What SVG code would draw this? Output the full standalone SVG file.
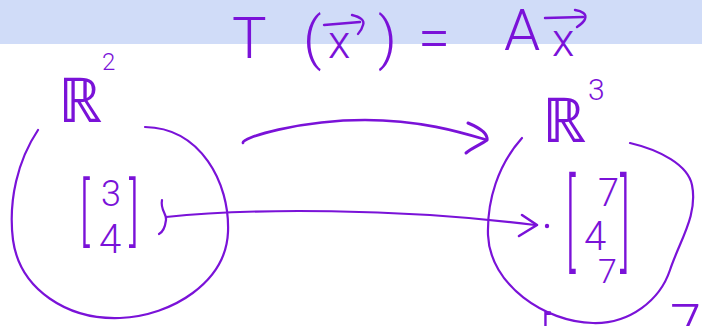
<svg xmlns="http://www.w3.org/2000/svg" width="702" height="326" viewBox="0 0 702 326">
<style>
.ink{fill:#7a12d8;font-family:"Roboto","Liberation Sans",sans-serif;font-weight:300}
.ln{fill:none;stroke:#7a12d8;stroke-linecap:round;stroke-linejoin:round}
</style>
<rect x="0" y="0" width="702" height="44" fill="#d0dcf8"/>
<g id="title">
<text class="ink" font-size="58" y="58"><tspan x="232">T</tspan><tspan x="303">(</tspan><tspan x="328" font-size="46">x</tspan><tspan x="378">)</tspan><tspan x="418">=</tspan><tspan x="504" y="50">A</tspan><tspan x="552" y="56" font-size="46">x</tspan></text>
<path class="ln" stroke-width="2.4" d="M324,25 L360,22 M352,15 C360,17 365,20 363,25 C362,29 360,32 358,34"/>
<path class="ln" stroke-width="2.4" d="M545,18 L583,17 M575,10 C582,11 587,14 585,19 C584,22 580,25 577,27"/>
</g>
<g id="R2">
<path class="ln" stroke-width="2.2" d="M38,130 C18,160 8,200 13,240 C20,290 68,320 120,318 C172,316 226,282 228,232 C230,182 200,128 145,127"/>
<text class="ink" font-size="62" x="58" y="122">ℝ</text>
<text class="ink" font-size="24" x="102" y="70">2</text>
<g id="v1">
<text class="ink" font-size="74" transform="translate(80,237) scale(0.55,1)">[</text>
<text class="ink" font-size="36" x="101" y="206">3</text>
<text class="ink" font-size="40" x="99" y="253">4</text>
<text class="ink" font-size="74" transform="translate(129,237) scale(0.55,1)">]</text>
</g>
</g>
<g id="R3">
<path class="ln" stroke-width="2.2" d="M522,138 C498,165 487,200 488,235 C490,285 545,322 593,323 C630,324 660,300 670,270 C680,240 698,215 692,185 C688,165 660,150 630,143"/>
<text class="ink" font-size="62" x="542" y="142">ℝ</text>
<text class="ink" font-size="30" x="588" y="100">3</text>
<g id="v2">
<text class="ink" font-size="106" transform="translate(566,258) scale(0.38,1)">[</text>
<text class="ink" font-size="38" x="598" y="206">7</text>
<text class="ink" font-size="40" x="584" y="250">4</text>
<text class="ink" font-size="34" x="598" y="283">7</text>
<text class="ink" font-size="106" transform="translate(620,258) scale(0.38,1)">]</text>
</g>
<circle cx="547" cy="226" r="2.2" fill="#7a12d8"/>
</g>
<g id="connectors">
<path class="ln" stroke-width="2.6" d="M243,143 C240,138 300,120 365,120 C420,120 460,132 487,140"/>
<path class="ln" stroke-width="3" d="M468,123 C480,128 488,134 487,140 C480,145 472,148 466,153"/>
<path class="ln" stroke-width="2.2" d="M162,200 C160,210 167,214 166,220 C165,228 163,232 159,234"/>
<path class="ln" stroke-width="2.2" d="M166,217 C250,208 400,208 535,225"/>
<path class="ln" stroke-width="2.6" d="M522,215 L537,225 L519,236"/>
</g>
<g id="bottom">
<text class="ink" font-size="74" transform="translate(541,372) scale(0.55,1)">[</text>
<text class="ink" font-size="56" x="670" y="344">7</text>
</g>
</svg>
